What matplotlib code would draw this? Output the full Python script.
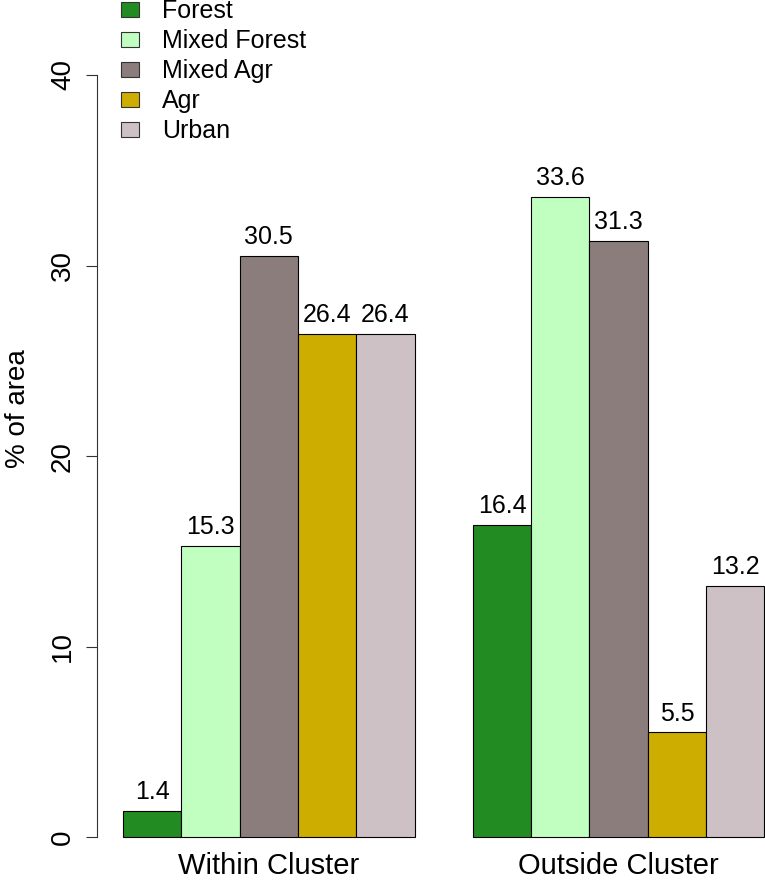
import numpy as np
import matplotlib
matplotlib.use('Agg')
import matplotlib.pyplot as plt
from matplotlib.patches import Rectangle

# data
groups = ['Within Cluster', 'Outside Cluster']
classes = ['Forest', 'Mixed Forest', 'Mixed Agr', 'Agr', 'Urban']
within = [1.4, 15.3, 30.5, 26.4, 26.4]
outside = [16.4, 33.6, 31.3, 5.5, 13.2]
colors = ['#228B22', '#C1FFC1', '#8B7D7B', '#CDAD00', '#CDC1C5']
yticks = [0, 10, 20, 30, 40]

plt.rcParams['font.family'] = ['Liberation Sans', 'DejaVu Sans']

W, H = 765, 882
fig = plt.figure(figsize=(W / 100, H / 100), dpi=100)
# R-style plot region (the original image is cropped at top and right)
ax = fig.add_axes([0.1272, 0.0118, 0.9055, 1.0501])

centers = []
for g, vals in enumerate([within, outside]):
    xs = np.arange(len(vals)) + 1.5 + g * (len(vals) + 1)
    centers.append(xs.mean())
    ax.bar(xs, vals, width=1.0, color=colors, edgecolor='black', linewidth=0.8)
    for x, v in zip(xs, vals):
        ax.annotate(f'{v:.1f}', (x, v), xytext=(0, 8.6), textcoords='offset points',
                    ha='center', va='baseline', fontsize=18)

ax.set_xlim(0.56, 12.44)
ax.set_ylim(-1.8, 46.8)
for s in ['top', 'right', 'bottom']:
    ax.spines[s].set_visible(False)
ax.spines['left'].set_bounds(0, 40)
ax.spines['left'].set_linewidth(0.8)
ax.spines['left'].set_color('#333333')

ax.set_yticks(yticks, [str(t) for t in yticks])
ax.tick_params(axis='y', length=8, width=0.8, color='#333333', labelsize=20, pad=11.7)
for lbl in ax.get_yticklabels():
    lbl.set_rotation(90)
    lbl.set_rotation_mode('anchor')
    lbl.set_ha('center')
    lbl.set_va('baseline')

ax.set_xticks(centers, groups)
ax.tick_params(axis='x', length=0, labelsize=21, pad=-14.3)

ax.set_ylabel('% of area', fontsize=20)
ax.yaxis.set_label_coords(-0.0957, 0.5)

# legend drawn by hand, top-left, no box
for i, (name, c) in enumerate(zip(classes, colors)):
    cy = 9.2 + 30 * i
    fig.add_artist(Rectangle((120.7 / 100, (H - cy - 7.5) / 100), 18.6 / 100, 15 / 100,
                             facecolor=c, edgecolor='#333333', linewidth=0.8,
                             transform=fig.dpi_scale_trans))
    fig.text(162 / 100, (H - cy - 9) / 100, name, fontsize=18, ha='left', va='baseline',
             transform=fig.dpi_scale_trans)

fig.savefig('out.png', dpi=100)
